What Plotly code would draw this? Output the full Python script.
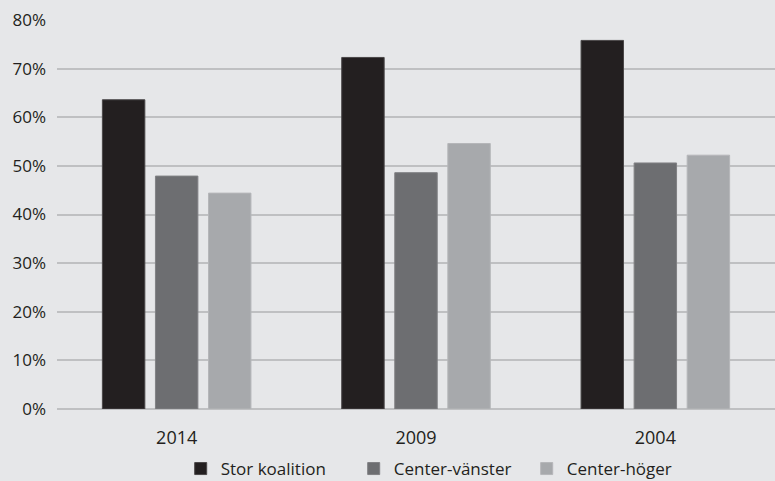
import plotly.graph_objects as go

years = ["2014", "2009", "2004"]
stor_koalition = [63.6, 72.3, 75.8]
center_vanster = [47.9, 48.6, 50.6]
center_hoger = [44.4, 54.6, 52.2]
series_names = ["Stor koalition", "Center-vänster", "Center-höger"]
colors = ["#231f20", "#6d6e71", "#a7a9ac"]
edge_colors = ["#4a4748", "#808184", "#b5b6b9"]

fig = go.Figure()
for name, vals, c, e in zip(series_names, [stor_koalition, center_vanster, center_hoger], colors, edge_colors):
    fig.add_trace(go.Bar(
        x=years, y=[v / 100 for v in vals], name=name,
        marker=dict(color=c, line=dict(color=e, width=1)),
    ))

fig.update_layout(
    width=775, height=481,
    margin=dict(l=57, r=0, t=20, b=72),
    paper_bgcolor="#e6e7e9", plot_bgcolor="#e6e7e9",
    barmode="group", bargap=0.335, bargroupgap=0.2,
    font=dict(family="Open Sans", size=17, color="#231f20"),
    showlegend=True,
    legend=dict(orientation="h", xref="container", x=0.568, xanchor="center",
                yref="container", y=12 / 481, yanchor="middle",
                font=dict(size=17), itemwidth=30, entrywidth=128, traceorder="normal",
                bgcolor="rgba(0,0,0,0)"),
    xaxis=dict(showgrid=False, showline=False, ticks="", ticklabelstandoff=16,
               tickfont=dict(size=18)),
    yaxis=dict(range=[0, 0.8], dtick=0.1, tickformat=".0%", showgrid=True,
               gridcolor="#bfc0c2", gridwidth=1.5, zeroline=True, zerolinecolor="#bfc0c2",
               zerolinewidth=1.5, ticks="", ticklabelstandoff=10, tickfont=dict(size=17)),
)

fig.write_html(
    "out.html",
    config={"displayModeBar": False},
    post_script="document.body.style.margin='0';document.body.style.background='#e6e7e9';",
)
